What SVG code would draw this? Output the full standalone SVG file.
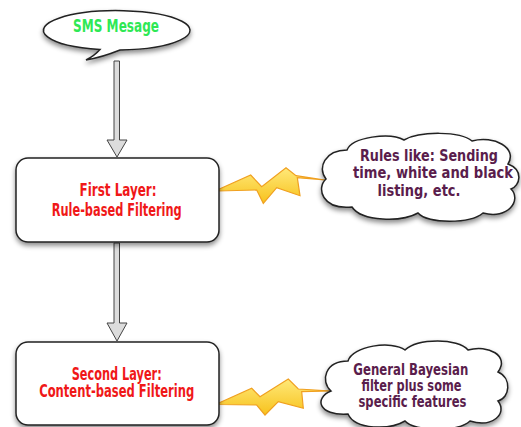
<svg xmlns="http://www.w3.org/2000/svg" width="521" height="427" viewBox="0 0 521 427">
  <defs>
    <filter id="shadow" x="-20%" y="-20%" width="140%" height="150%">
      <feDropShadow dx="0" dy="3" stdDeviation="2.5" flood-color="#000" flood-opacity="0.45"/>
    </filter>
    <linearGradient id="boltFill" x1="0" y1="0" x2="0" y2="1">
      <stop offset="0" stop-color="#ffe97a"/>
      <stop offset="1" stop-color="#f7c21c"/>
    </linearGradient>
  </defs>
  <style>
    .shape { fill: #ffffff; stroke: #222; stroke-width: 1.5; filter: url(#shadow); }
    .arrow { fill: #dcdcdc; stroke: #444; stroke-width: 1; }
    .bolt { fill: url(#boltFill); stroke: #f0a020; stroke-width: 1.2; stroke-linejoin: miter; }
    text { font-family: "DejaVu Sans Condensed", "DejaVu Sans", sans-serif; font-weight: bold; text-anchor: middle; }
    .start { fill: #2ee854; font-size: 17px; }
    .layer { fill: #f01818; font-size: 17px; }
    .note { fill: #5a1d4c; font-size: 15px; }
  </style>

  <!-- connectors: block arrows and lightning bolts -->
  <g id="connectors">
    <polygon class="arrow" points="114,61 119.5,61 119.5,140 127,140 117,157 107,140 114,140"/>
    <polygon class="arrow" points="114,243 119.5,243 119.5,323 127,323 117,341 107,323 114,323"/>
    <polygon class="bolt" points="218.3,189.5 250.7,175 261.7,186.7 286,167.7 296,175.7 325,180 297.3,177.7 300,195.7 276.7,187.7 263.3,203.3 256.7,190 218.3,191"/>
    <polygon class="bolt" points="218.3,403.3 251.7,388.3 260,396.7 288.3,379 298.3,389 331.7,391 301.7,391.7 303.3,408.3 278.3,401.7 265,415 256.7,405 218.3,404.5"/>
  </g>

  <!-- speech bubble -->
  <g id="sms-message">
    <path class="shape" d="M 100 49.5 C 96 54, 92 57, 86 60 C 98 58, 110 54, 120 50 A 73.3 19.7 0 1 0 100 49.5 Z"/>
    <text class="start" x="116" y="32" textLength="86" lengthAdjust="spacingAndGlyphs">SMS Mesage</text>
  </g>

  <!-- first layer -->
  <g id="first-layer">
    <rect class="shape" x="16" y="158" width="203" height="84" rx="12" ry="12"/>
    <text class="layer" x="118" y="196" textLength="77" lengthAdjust="spacingAndGlyphs">First Layer:</text>
    <text class="layer" x="116.7" y="216" textLength="130" lengthAdjust="spacingAndGlyphs">Rule-based Filtering</text>
  </g>

  <!-- second layer -->
  <g id="second-layer">
    <rect class="shape" x="16" y="342" width="203" height="83" rx="12" ry="12"/>
    <text class="layer" x="116.7" y="379.5" textLength="90" lengthAdjust="spacingAndGlyphs">Second Layer:</text>
    <text class="layer" x="116.7" y="397" textLength="155" lengthAdjust="spacingAndGlyphs">Content-based Filtering</text>
  </g>

  <!-- note on rules -->
  <g id="rules-note">
    <path class="shape" d="M 326 179 C 317 168, 325 150, 347 150 C 352 137, 390 132, 404 140 C 420 131, 460 131, 472 141 C 494 135, 518 148, 508 164 C 524 170, 520 186, 511 189 C 522 200, 508 220, 483 213 C 470 224, 428 224, 418 213 C 402 222, 362 222, 352 207 C 322 210, 316 188, 326 179 Z"/>
    <text class="note" x="429" y="160.7" textLength="138" lengthAdjust="spacingAndGlyphs">Rules like: Sending</text>
    <text class="note" x="433" y="178.3" textLength="160" lengthAdjust="spacingAndGlyphs">time, white and black</text>
    <text class="note" x="419" y="196" textLength="83" lengthAdjust="spacingAndGlyphs">listing, etc.</text>
  </g>

  <!-- note on content filtering -->
  <g id="content-note">
    <path class="shape" d="M 331 391 C 320 381, 325 361, 348 361 C 352 346, 392 340, 405 350 C 418 338, 458 338, 468 350 C 488 344, 510 356, 498 372 C 512 378, 510 398, 498 401 C 508 414, 492 428, 470 421 C 458 432, 415 432, 405 421 C 390 430, 355 430, 348 414 C 318 416, 314 398, 331 391 Z"/>
    <text class="note" x="410.8" y="375" textLength="115" lengthAdjust="spacingAndGlyphs">General Bayesian</text>
    <text class="note" x="411.5" y="391" textLength="100" lengthAdjust="spacingAndGlyphs">filter plus some</text>
    <text class="note" x="412.5" y="407" textLength="108" lengthAdjust="spacingAndGlyphs">specific features</text>
  </g>
</svg>
